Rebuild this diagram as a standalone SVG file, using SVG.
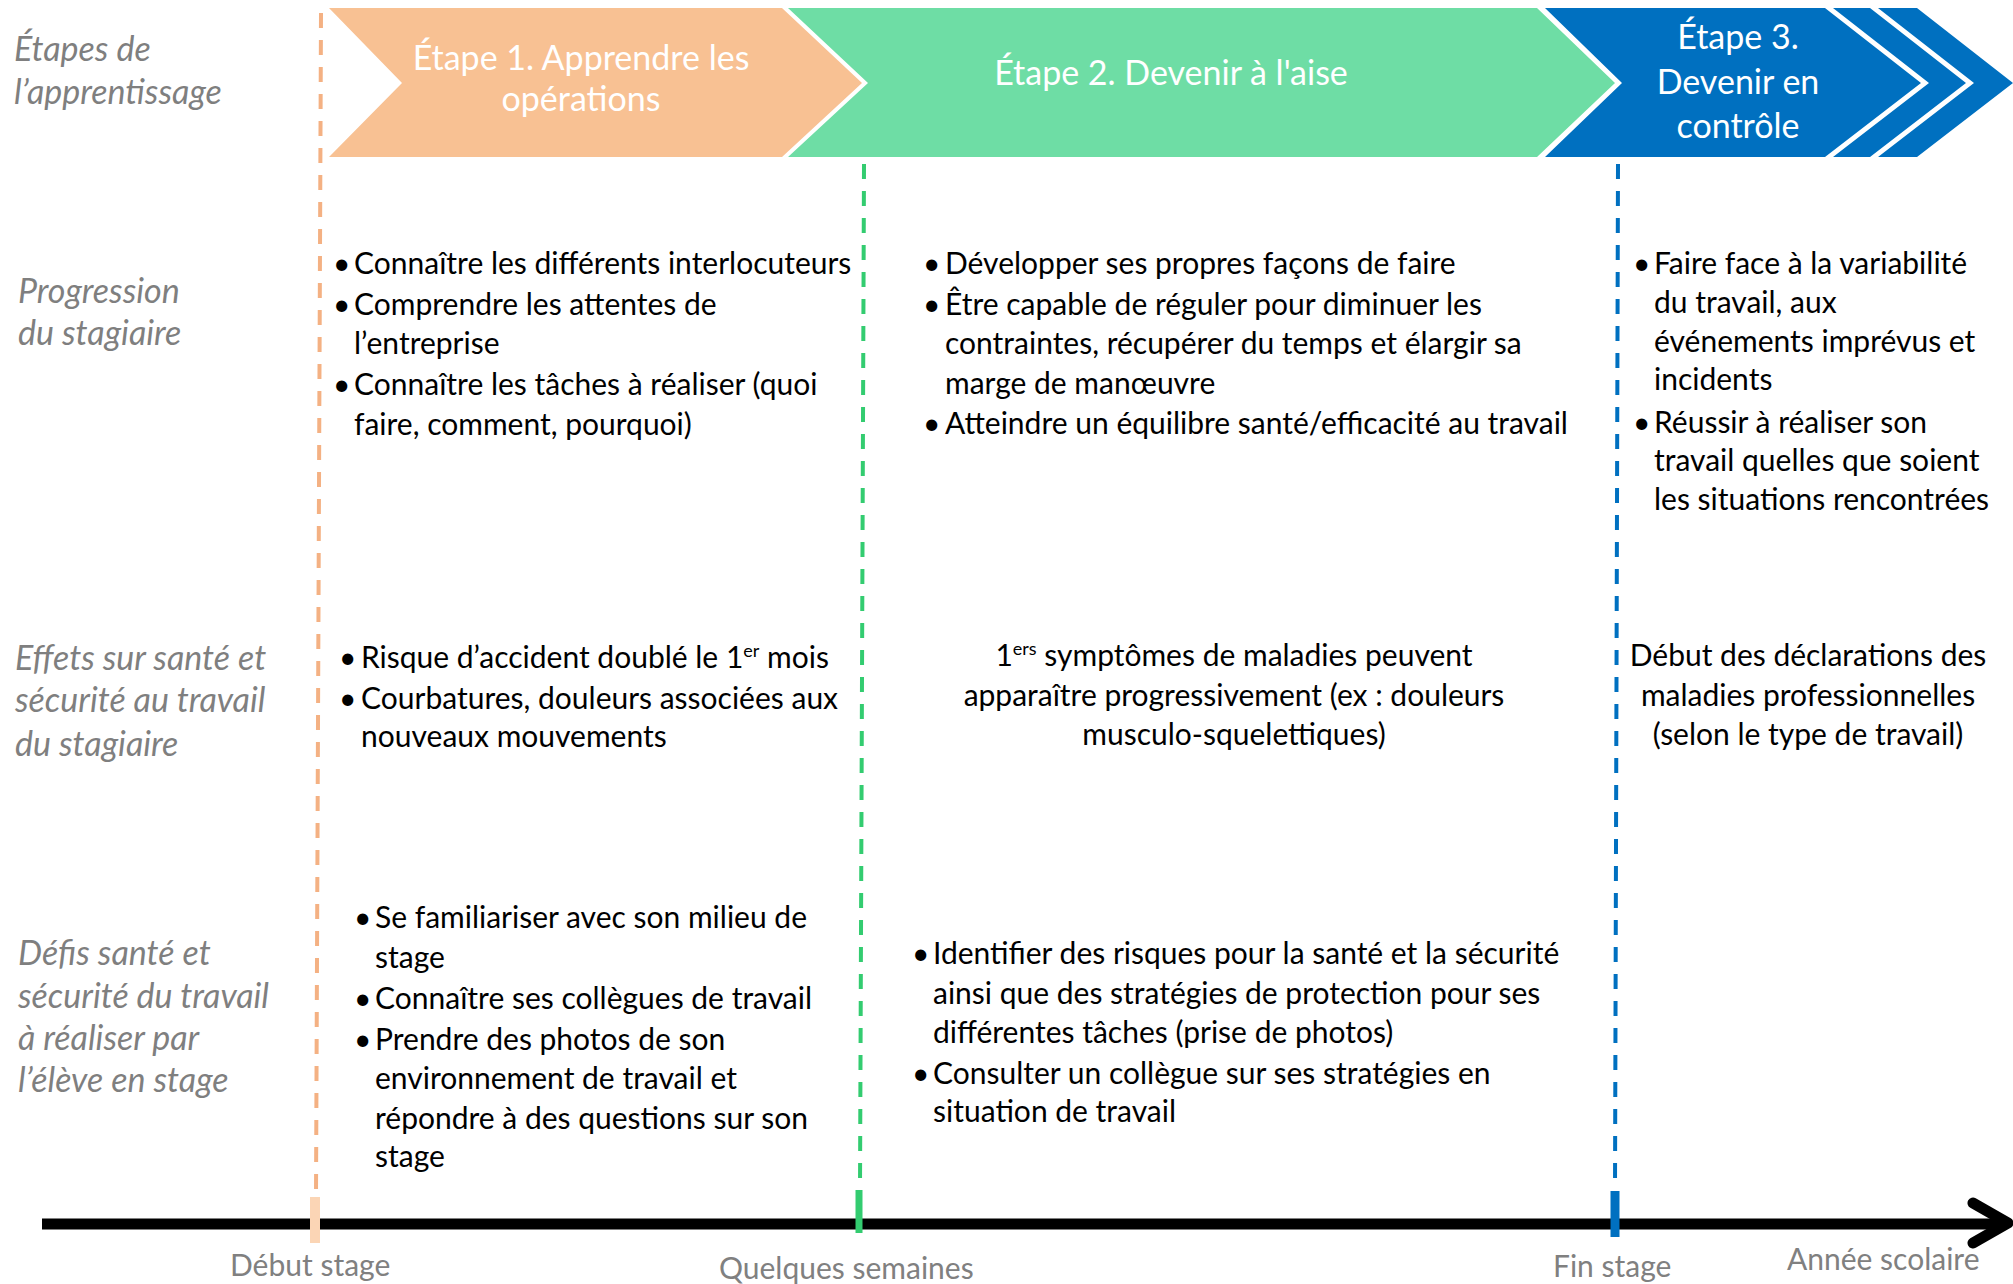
<svg xmlns="http://www.w3.org/2000/svg" width="2013" height="1284" viewBox="0 0 2013 1284">
  <style>
    .lbl { font-family: Lato, "Liberation Sans", sans-serif; font-style: italic; font-size: 34px; fill: #7f7f7f; }
    .body { font-family: Lato, "Liberation Sans", sans-serif; font-size: 30px; fill: #000000; }
    .ctr { text-anchor: middle; }
    .stage { font-family: Lato, "Liberation Sans", sans-serif; font-size: 34px; fill: #ffffff; text-anchor: middle; }
    .stage3 { font-family: Lato, "Liberation Sans", sans-serif; font-size: 34px; fill: #ffffff; text-anchor: middle; }
    .axis-lbl { font-family: Lato, "Liberation Sans", sans-serif; font-size: 30px; fill: #808080; }
    .dash { fill: none; stroke-width: 4; stroke-dasharray: 15 12; }
    .sup { font-size: 18px; }
  </style>

  <rect width="2013" height="1284" fill="#ffffff"/>

  <!-- Row labels -->
  <g id="row-labels">
    <text class="lbl" x="14" y="61">Étapes de</text>
    <text class="lbl" x="14" y="104">l’apprentissage</text>
    <text class="lbl" x="18" y="303">Progression</text>
    <text class="lbl" x="18" y="345">du stagiaire</text>
    <text class="lbl" x="15" y="670">Effets sur santé et</text>
    <text class="lbl" x="15" y="712">sécurité au travail</text>
    <text class="lbl" x="15" y="756">du stagiaire</text>
    <text class="lbl" x="18" y="965">Défis santé et</text>
    <text class="lbl" x="18" y="1008">sécurité du travail</text>
    <text class="lbl" x="18" y="1050">à réaliser par</text>
    <text class="lbl" x="18" y="1092">l’élève en stage</text>
  </g>

  <!-- Milestone guides and timeline -->
  <g id="connectors">
    <line class="dash" x1="321" y1="13" x2="316" y2="1196" stroke="#f4b183"/>
    <line class="dash" x1="864" y1="164" x2="860" y2="1190" stroke="#33cc70"/>
    <line class="dash" x1="1618" y1="164" x2="1615" y2="1190" stroke="#0070c0"/>
    <line x1="42" y1="1224" x2="2003" y2="1224" stroke="#000000" stroke-width="11"/>
    <polyline points="1973,1203 2008,1223 1973,1243" fill="none" stroke="#000000" stroke-width="11" stroke-linecap="round" stroke-linejoin="round"/>
    <line x1="315" y1="1197" x2="315" y2="1243" stroke="#fbd5b5" stroke-width="10"/>
    <line x1="859" y1="1190" x2="859" y2="1233" stroke="#33cc70" stroke-width="7"/>
    <line x1="1615" y1="1191" x2="1615" y2="1237" stroke="#0070c0" stroke-width="9"/>
  </g>

  <!-- Stage 1 -->
  <g id="stage1">
    <polygon points="329,8 782,8 862,83 782,157 329,157 402,83" fill="#f8c193"/>
    <text class="stage" x="581" y="70">Étape 1. Apprendre les</text>
    <text class="stage" x="581" y="111">opérations</text>
  </g>

  <!-- Stage 2 -->
  <g id="stage2">
    <polygon points="788,8 1537,8 1615,83 1537,157 788,157 868,83" fill="#6edda5"/>
    <text class="stage" x="1171" y="85">Étape 2. Devenir à l'aise</text>
  </g>

  <!-- Stage 3 -->
  <g id="stage3">
    <polygon points="1545,8 1825,8 1921,83 1825,157 1545,157 1622,83" fill="#0070c0"/>
    <polygon points="1833,8 1870,8 1966,83 1870,157 1833,157 1929,83" fill="#0070c0"/>
    <polygon points="1878,8 1917,8 2013,83 1917,157 1878,157 1974,83" fill="#0070c0"/>
    <text class="stage3" x="1738" y="49">Étape 3.</text>
    <text class="stage3" x="1738" y="94">Devenir en</text>
    <text class="stage3" x="1738" y="138">contrôle</text>
  </g>

  <!-- Progression du stagiaire -->
  <g id="progress-1">
    <text class="body" x="333" y="274">•</text>
    <text class="body" x="354" y="274">Connaître les différents interlocuteurs</text>
    <text class="body" x="333" y="315">•</text>
    <text class="body" x="354" y="315">Comprendre les attentes de</text>
    <text class="body" x="354" y="354">l’entreprise</text>
    <text class="body" x="333" y="395">•</text>
    <text class="body" x="354" y="395">Connaître les tâches à réaliser (quoi</text>
    <text class="body" x="354" y="435">faire, comment,  pourquoi)</text>
  </g>
  <g id="progress-2">
    <text class="body" x="923" y="274">•</text>
    <text class="body" x="945" y="274">Développer ses propres façons de faire</text>
    <text class="body" x="923" y="315">•</text>
    <text class="body" x="945" y="315">Être capable de réguler pour diminuer les</text>
    <text class="body" x="945" y="354">contraintes, récupérer du temps et élargir sa</text>
    <text class="body" x="945" y="394">marge de manœuvre</text>
    <text class="body" x="923" y="434">•</text>
    <text class="body" x="945" y="434">Atteindre un équilibre santé/efficacité au travail</text>
  </g>
  <g id="progress-3">
    <text class="body" x="1633" y="274">•</text>
    <text class="body" x="1654" y="274">Faire face à la variabilité</text>
    <text class="body" x="1654" y="313">du travail, aux</text>
    <text class="body" x="1654" y="352">événements imprévus et</text>
    <text class="body" x="1654" y="390">incidents</text>
    <text class="body" x="1633" y="433">•</text>
    <text class="body" x="1654" y="433">Réussir à réaliser son</text>
    <text class="body" x="1654" y="471">travail quelles que soient</text>
    <text class="body" x="1654" y="510">les situations rencontrées</text>
  </g>

  <!-- Effets sur santé et sécurité -->
  <g id="effects-1">
    <text class="body" x="339" y="668">•</text>
    <text class="body" x="361" y="668">Risque d’accident doublé le 1<tspan class="sup" dy="-11">er</tspan><tspan dy="11"> mois</tspan></text>
    <text class="body" x="339" y="709">•</text>
    <text class="body" x="361" y="709">Courbatures, douleurs associées aux</text>
    <text class="body" x="361" y="747">nouveaux mouvements</text>
  </g>
  <g id="effects-2">
    <text class="body ctr" x="1234" y="666">1<tspan class="sup" dy="-11">ers</tspan><tspan dy="11">  symptômes de maladies peuvent</tspan></text>
    <text class="body ctr" x="1234" y="706">apparaître progressivement (ex : douleurs</text>
    <text class="body ctr" x="1234" y="745">musculo-squelettiques)</text>
  </g>
  <g id="effects-3">
    <text class="body ctr" x="1808" y="666">Début des déclarations des</text>
    <text class="body ctr" x="1808" y="706">maladies professionnelles</text>
    <text class="body ctr" x="1808" y="745">(selon le type de travail)</text>
  </g>

  <!-- Défis santé et sécurité -->
  <g id="challenges-1">
    <text class="body" x="354" y="928">•</text>
    <text class="body" x="375" y="928">Se familiariser avec son milieu de</text>
    <text class="body" x="375" y="968">stage</text>
    <text class="body" x="354" y="1009">•</text>
    <text class="body" x="375" y="1009">Connaître ses collègues de travail</text>
    <text class="body" x="354" y="1050">•</text>
    <text class="body" x="375" y="1050">Prendre des photos de son</text>
    <text class="body" x="375" y="1089">environnement de travail et</text>
    <text class="body" x="375" y="1129">répondre à des questions sur son</text>
    <text class="body" x="375" y="1167">stage</text>
  </g>
  <g id="challenges-2">
    <text class="body" x="912" y="964">•</text>
    <text class="body" x="933" y="964">Identifier des risques pour la santé et la sécurité</text>
    <text class="body" x="933" y="1004">ainsi que des stratégies de protection pour ses</text>
    <text class="body" x="933" y="1043">différentes tâches (prise de photos)</text>
    <text class="body" x="912" y="1084">•</text>
    <text class="body" x="933" y="1084">Consulter un collègue sur ses stratégies en</text>
    <text class="body" x="933" y="1122">situation de travail</text>
  </g>

  <!-- Timeline labels -->
  <g id="axis-labels">
    <text class="axis-lbl" x="230" y="1276">Début stage</text>
    <text class="axis-lbl" x="719" y="1279">Quelques semaines</text>
    <text class="axis-lbl" x="1553" y="1277">Fin stage</text>
    <text class="axis-lbl" x="1787" y="1270">Année scolaire</text>
  </g>
</svg>
